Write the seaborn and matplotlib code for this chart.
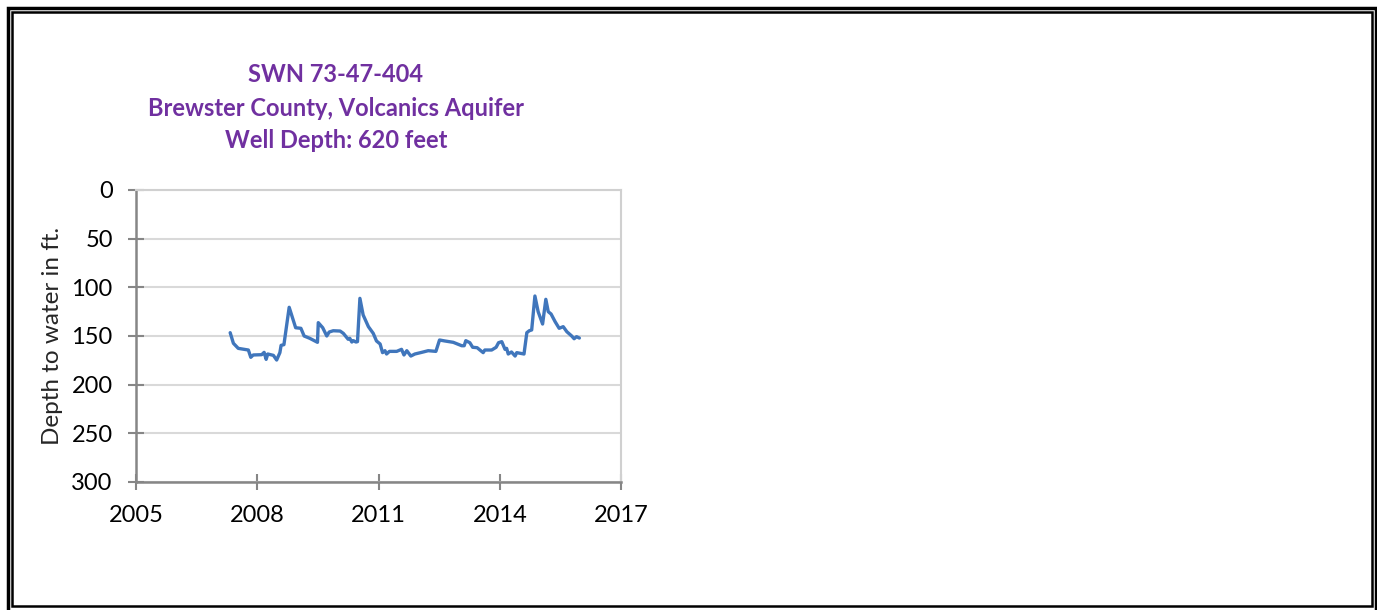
import numpy as np
import pandas as pd
import matplotlib
matplotlib.use('Agg')
import matplotlib.pyplot as plt
import seaborn as sns
from matplotlib.patches import Rectangle

# ==========================================
# 数据
# ==========================================
years = [2007.33, 2007.41, 2007.53, 2007.78, 2007.84, 2007.90, 2008.11, 2008.17, 2008.22, 2008.26,
         2008.40, 2008.48, 2008.56, 2008.59, 2008.66, 2008.79, 2008.95, 2009.08, 2009.16, 2009.30,
         2009.49, 2009.51, 2009.62, 2009.72, 2009.78, 2009.88, 2010.05, 2010.13, 2010.25, 2010.29,
         2010.34, 2010.38, 2010.44, 2010.48, 2010.54, 2010.62, 2010.75, 2010.87, 2010.95, 2011.04,
         2011.10, 2011.16, 2011.20, 2011.27, 2011.45, 2011.57, 2011.63, 2011.70, 2011.80, 2011.90,
         2012.07, 2012.23, 2012.42, 2012.51, 2012.64, 2012.85, 2013.06, 2013.12, 2013.16, 2013.26,
         2013.33, 2013.44, 2013.51, 2013.59, 2013.63, 2013.80, 2013.91, 2013.97, 2014.05, 2014.13,
         2014.17, 2014.21, 2014.29, 2014.38, 2014.42, 2014.60, 2014.67, 2014.73, 2014.79, 2014.87,
         2014.95, 2015.06, 2015.14, 2015.20, 2015.27, 2015.37, 2015.47, 2015.57, 2015.66, 2015.78,
         2015.84, 2015.90, 2015.97]
depth = [146.6, 157.5, 162.7, 164.4, 171.9, 169.5, 169.2, 166.8, 174.0, 168.5,
         169.9, 174.7, 167.1, 159.6, 158.9, 120.5, 141.5, 142.1, 150.0, 152.4,
         156.5, 136.3, 141.5, 150.0, 145.9, 144.6, 144.9, 147.3, 153.4, 152.4,
         156.2, 154.8, 156.2, 155.8, 111.3, 128.4, 140.4, 147.3, 155.1, 158.2,
         167.1, 165.1, 168.5, 165.8, 165.8, 163.7, 169.5, 165.1, 170.6, 168.5,
         166.8, 165.1, 165.8, 154.1, 155.1, 156.5, 160.0, 160.0, 154.8, 156.9,
         161.6, 162.0, 164.4, 167.1, 164.4, 164.4, 161.6, 156.9, 155.8, 163.7,
         162.7, 168.5, 166.4, 170.6, 167.1, 168.5, 146.6, 144.6, 143.8, 108.9,
         125.0, 137.7, 112.3, 125.0, 127.4, 135.3, 142.1, 140.4, 145.6, 150.0,
         152.8, 150.7, 152.1]

x_ticks = [2005, 2008, 2011, 2014, 2017]
y_ticks = [0, 50, 100, 150, 200, 250, 300]
title_lines = ['SWN 73-47-404', 'Brewster County, Volcanics Aquifer', 'Well Depth: 620 feet']

df = pd.DataFrame({'year': years, 'depth': depth})

# ==========================================
# 绘图
# ==========================================
sns.set_style('white')
plt.rcParams['font.family'] = ['Lato', 'DejaVu Sans']

fig = plt.figure(figsize=(13.77, 6.10), dpi=100)
ax = fig.add_axes([136 / 1377, 1 - 482 / 610, 485 / 1377, 292 / 610])

sns.lineplot(data=df, x='year', y='depth', ax=ax, color='#4076BC', linewidth=2.4, zorder=3)

ax.set_xlim(2005, 2017)
ax.set_ylim(300, 0)
ax.set_xticks(x_ticks)
ax.set_yticks(y_ticks)
ax.tick_params(axis='both', labelsize=17, direction='inout', length=11.5, width=1.5,
               color='#868686', pad=11, labelcolor='black', bottom=True, left=True)
ax.yaxis.grid(True, color='#D9D9D9', linewidth=1.5)
ax.set_xlabel('')
ax.set_ylabel('Depth to water in ft.', fontsize=17.5, labelpad=6)

for side in ['left', 'bottom']:
    ax.spines[side].set_color('#868686')
    ax.spines[side].set_linewidth(1.8)
for side in ['top', 'right']:
    ax.spines[side].set_color('#D0D0D0')
    ax.spines[side].set_linewidth(1.5)

# 标题 (紫色)
for i, line in enumerate(title_lines):
    fig.text(336 / 1377, 1 - (75 + 33 * i) / 610, line, ha='center', va='center',
             fontsize=17, fontweight='bold', color='#7030A0')

# 双线边框
fig.patches.append(Rectangle((7.5 / 1377, -2 / 610), 1368.5 / 1377, 604.5 / 610, transform=fig.transFigure,
                             fill=False, edgecolor='black', linewidth=2.5))
fig.patches.append(Rectangle((12 / 1377, 4 / 610), 1359.5 / 1377, 594 / 610, transform=fig.transFigure,
                             fill=False, edgecolor='black', linewidth=1.8))

fig.savefig('out.png', dpi=100)
